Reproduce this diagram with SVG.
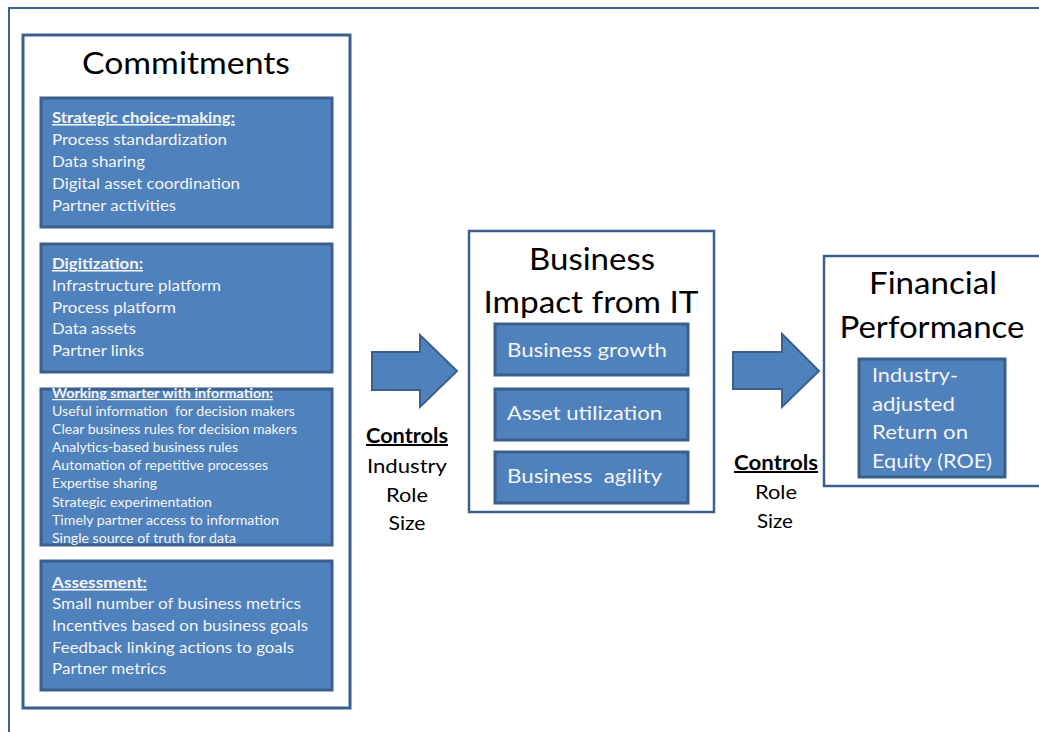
<svg xmlns="http://www.w3.org/2000/svg" width="1039" height="732" viewBox="0 0 1039 732">
  <style>
    .frame { fill: none; stroke: #3F6592; stroke-width: 2; }
    .panel { fill: #FFFFFF; stroke: #3B6090; stroke-width: 3; }
    .card { fill: #4F81BD; stroke: #3A5F8B; stroke-width: 3; }
    .arrow { fill: #4F81BD; stroke: #3A5F8B; stroke-width: 2; }
    text { font-family: Lato, "Liberation Sans", sans-serif; }
    .title { font-size: 30px; fill: #000; text-anchor: middle; }
    .cardtxt { font-size: 15.5px; fill: #F4F4F4; }
    .cardsm { font-size: 12.5px; fill: #F4F4F4; }
    .head { font-weight: bold; text-decoration: underline; }
    .item { font-size: 19.5px; fill: #F4F4F4; }
    .ctl { font-size: 20px; fill: #000; text-anchor: middle; }
  </style>

  <!-- page frame -->
  <path class="frame" d="M9,732 V8 H1039"/>

  <!-- Commitments column -->
  <g id="commitments">
    <rect class="panel" x="23" y="35" width="327" height="673"/>
    <text class="title" x="186" y="74" textLength="208" lengthAdjust="spacingAndGlyphs">Commitments</text>

    <g id="strategic">
      <rect class="card" x="41" y="98" width="291" height="129"/>
      <text class="cardtxt head" x="52" y="123" textLength="183" lengthAdjust="spacingAndGlyphs">Strategic choice-making:</text>
      <text class="cardtxt" x="52" y="145" textLength="175" lengthAdjust="spacingAndGlyphs">Process standardization</text>
      <text class="cardtxt" x="52" y="167" textLength="93" lengthAdjust="spacingAndGlyphs">Data sharing</text>
      <text class="cardtxt" x="52" y="189" textLength="188" lengthAdjust="spacingAndGlyphs">Digital asset coordination</text>
      <text class="cardtxt" x="52" y="211" textLength="124" lengthAdjust="spacingAndGlyphs">Partner activities</text>
    </g>

    <g id="digitization">
      <rect class="card" x="41" y="244" width="291" height="128"/>
      <text class="cardtxt head" x="52" y="269" textLength="91" lengthAdjust="spacingAndGlyphs">Digitization:</text>
      <text class="cardtxt" x="52" y="291" textLength="169" lengthAdjust="spacingAndGlyphs">Infrastructure platform</text>
      <text class="cardtxt" x="52" y="313" textLength="124" lengthAdjust="spacingAndGlyphs">Process platform</text>
      <text class="cardtxt" x="52" y="334" textLength="84" lengthAdjust="spacingAndGlyphs">Data assets</text>
      <text class="cardtxt" x="52" y="356" textLength="92" lengthAdjust="spacingAndGlyphs">Partner links</text>
    </g>

    <g id="working-smarter">
      <rect class="card" x="41" y="389" width="291" height="156"/>
      <text class="cardsm head" x="52" y="398" textLength="221" lengthAdjust="spacingAndGlyphs">Working smarter with information:</text>
      <text class="cardsm" x="52" y="416" textLength="243" lengthAdjust="spacingAndGlyphs" xml:space="preserve">Useful information  for decision makers</text>
      <text class="cardsm" x="52" y="434" textLength="245" lengthAdjust="spacingAndGlyphs">Clear business rules for decision makers</text>
      <text class="cardsm" x="52" y="452" textLength="186" lengthAdjust="spacingAndGlyphs">Analytics-based business rules</text>
      <text class="cardsm" x="52" y="470" textLength="216" lengthAdjust="spacingAndGlyphs">Automation of repetitive processes</text>
      <text class="cardsm" x="52" y="488" textLength="105" lengthAdjust="spacingAndGlyphs">Expertise sharing</text>
      <text class="cardsm" x="52" y="507" textLength="160" lengthAdjust="spacingAndGlyphs">Strategic experimentation</text>
      <text class="cardsm" x="52" y="525" textLength="227" lengthAdjust="spacingAndGlyphs">Timely partner access to information</text>
      <text class="cardsm" x="52" y="543" textLength="184" lengthAdjust="spacingAndGlyphs">Single source of truth for data</text>
    </g>

    <g id="assessment">
      <rect class="card" x="41" y="561" width="291" height="129"/>
      <text class="cardtxt head" x="52" y="588" textLength="95" lengthAdjust="spacingAndGlyphs">Assessment:</text>
      <text class="cardtxt" x="52" y="609" textLength="249" lengthAdjust="spacingAndGlyphs">Small number of business metrics</text>
      <text class="cardtxt" x="52" y="631" textLength="256" lengthAdjust="spacingAndGlyphs">Incentives based on business goals</text>
      <text class="cardtxt" x="52" y="653" textLength="242" lengthAdjust="spacingAndGlyphs">Feedback linking actions to goals</text>
      <text class="cardtxt" x="52" y="674" textLength="114" lengthAdjust="spacingAndGlyphs">Partner metrics</text>
    </g>
  </g>

  <!-- Business impact column -->
  <g id="business-impact">
    <rect class="panel" x="469" y="231" width="245" height="281" style="stroke-width:2.5"/>
    <text class="title" x="592" y="270" textLength="126" lengthAdjust="spacingAndGlyphs">Business</text>
    <text class="title" x="591" y="313" textLength="215" lengthAdjust="spacingAndGlyphs">Impact from IT</text>
    <g id="business-growth">
      <rect class="card" x="495" y="324" width="193" height="51"/>
      <text class="item" x="507" y="357" textLength="160" lengthAdjust="spacingAndGlyphs">Business growth</text>
    </g>
    <g id="asset-utilization">
      <rect class="card" x="495" y="389" width="193" height="51"/>
      <text class="item" x="507" y="420" textLength="155" lengthAdjust="spacingAndGlyphs">Asset utilization</text>
    </g>
    <g id="business-agility">
      <rect class="card" x="495" y="452" width="193" height="51"/>
      <text class="item" x="507" y="483" textLength="155" lengthAdjust="spacingAndGlyphs" xml:space="preserve">Business  agility</text>
    </g>
  </g>

  <!-- Financial performance column -->
  <g id="financial-performance">
    <rect class="panel" x="824" y="256" width="230" height="230" style="stroke-width:2.5"/>
    <text class="title" x="933" y="294" textLength="128" lengthAdjust="spacingAndGlyphs">Financial</text>
    <text class="title" x="932" y="338" textLength="185" lengthAdjust="spacingAndGlyphs">Performance</text>
    <g id="roe">
      <rect class="card" x="859" y="359" width="146" height="118"/>
      <text class="item" x="872" y="382" textLength="86" lengthAdjust="spacingAndGlyphs">Industry-</text>
      <text class="item" x="872" y="411" textLength="83" lengthAdjust="spacingAndGlyphs">adjusted</text>
      <text class="item" x="872" y="439" textLength="96" lengthAdjust="spacingAndGlyphs">Return on</text>
      <text class="item" x="872" y="468" textLength="120" lengthAdjust="spacingAndGlyphs">Equity (ROE)</text>
    </g>
  </g>

  <!-- connectors -->
  <g id="connectors">
    <polygon class="arrow" points="372,352 420,352 420,335 457,371 420,407 420,390 372,390"/>
    <polygon class="arrow" points="733,352 782,352 782,334 819,371 782,407 782,389 733,389"/>
    <g id="controls-1">
      <text class="ctl head" x="407" y="443" textLength="82" lengthAdjust="spacingAndGlyphs">Controls</text>
      <text class="ctl" x="407" y="473" textLength="80" lengthAdjust="spacingAndGlyphs">Industry</text>
      <text class="ctl" x="407" y="502" textLength="42" lengthAdjust="spacingAndGlyphs">Role</text>
      <text class="ctl" x="407" y="530" textLength="37" lengthAdjust="spacingAndGlyphs">Size</text>
    </g>
    <g id="controls-2">
      <text class="ctl head" x="776" y="470" textLength="84" lengthAdjust="spacingAndGlyphs">Controls</text>
      <text class="ctl" x="776" y="499" textLength="42" lengthAdjust="spacingAndGlyphs">Role</text>
      <text class="ctl" x="775" y="528" textLength="36" lengthAdjust="spacingAndGlyphs">Size</text>
    </g>
  </g>
</svg>
